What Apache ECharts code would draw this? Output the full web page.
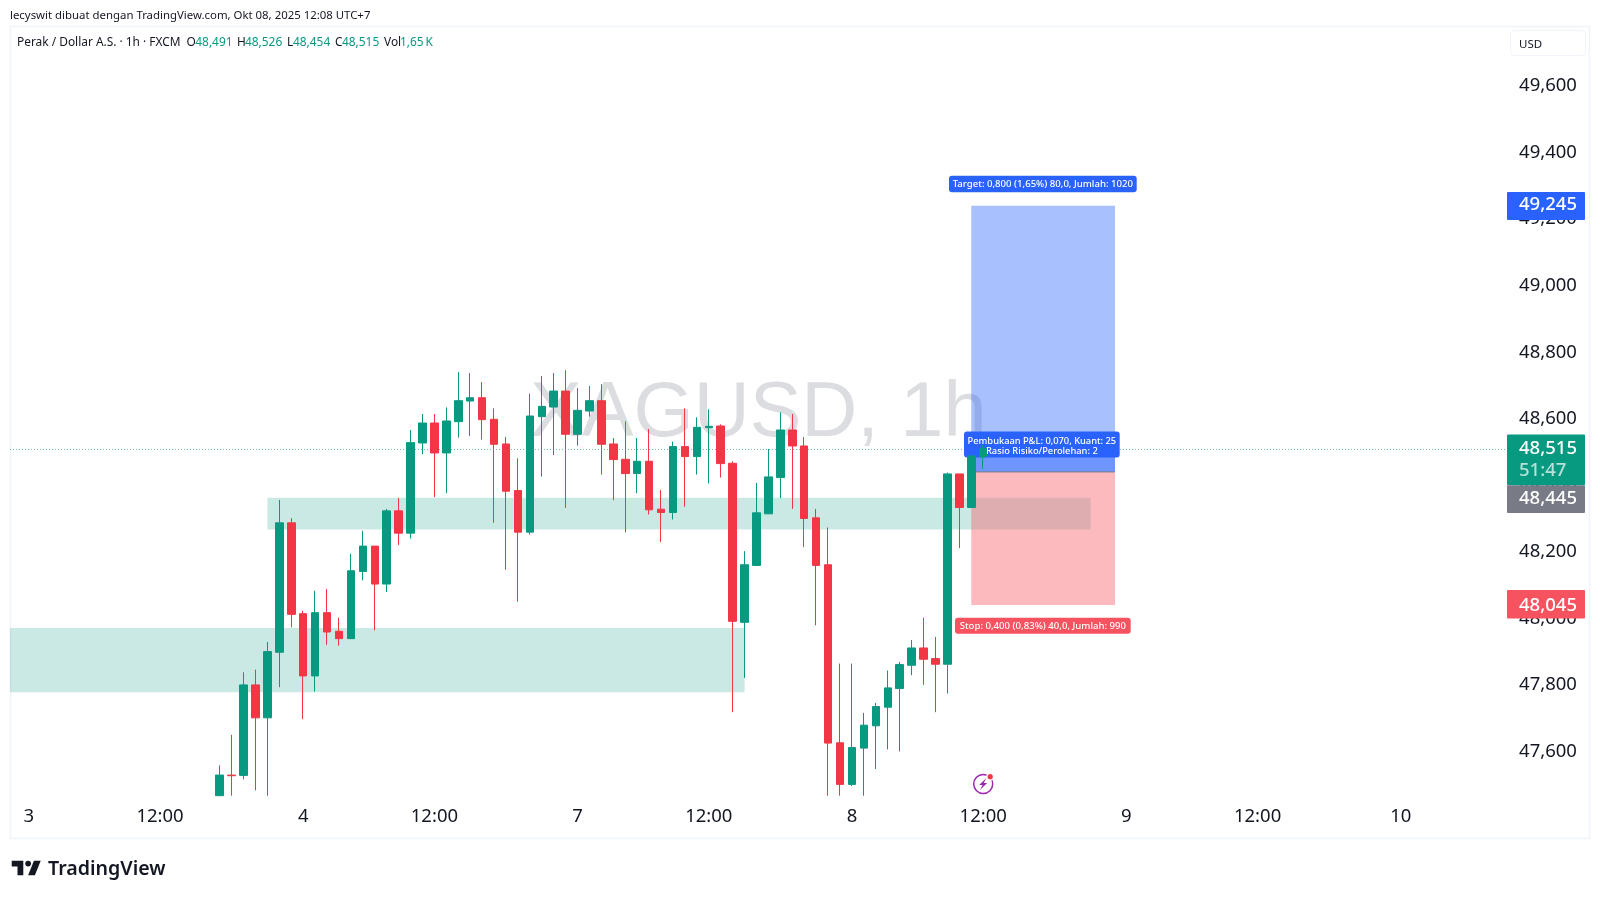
<!DOCTYPE html>
<html><head><meta charset="utf-8">
<style>html,body{margin:0;padding:0;background:#fff}#c{width:1600px;height:898px}</style>
<script src="https://cdn.jsdelivr.net/npm/echarts@6/dist/echarts.min.js"></script>
</head><body><div id="c"></div>
<script>
// --- data (prices in the chart's own units, "48,515" = 48515) ---
const opens =[47472,47534,47533,47805,47706,47903,48292,48019,47832,48022,47966,47944,48146,48222,48108,48328,48261,48532,48592,48502,48596,48658,48668,48603,48529,48389,48264,48611,48640,48688,48558,48628,48659,48529,48483,48440,48477,48333,48323,48521,48491,48578,48583,48471,47993,48164,48319,48428,48571,48523,48307,48166,47631,47506,47615,47682,47738,47794,47864,47916,47884,47867,48439,48338,48491];
const closes=[47534,47532,47805,47706,47905,48292,48017,47832,48022,47964,47944,48148,48222,48108,48328,48261,48533,48592,48502,48598,48659,48668,48602,48528,48387,48264,48613,48642,48688,48558,48630,48659,48528,48482,48440,48477,48331,48323,48521,48491,48579,48582,48470,47996,48166,48322,48430,48571,48523,48305,48164,47630,47506,47617,47684,47740,47796,47866,47916,47882,47867,48439,48338,48493,48515];
const lows  =[47472,47472,47521,47488,47472,47798,47978,47702,47785,47925,47923,47944,48119,47969,48084,48225,48245,48498,48369,48381,48548,48553,48542,48292,48151,48055,48257,48431,48496,48337,48524,48611,48437,48360,48263,48381,48317,48234,48302,48340,48437,48410,48428,47723,47826,48164,48319,48366,48334,48219,47984,47472,47472,47501,47472,47552,47611,47605,47834,47805,47723,47779,48216,48338,48454];
const highs =[47563,47655,47843,47851,47934,48361,48306,48028,48088,48093,48007,48199,48268,48222,48334,48367,48571,48619,48619,48639,48745,48742,48715,48636,48550,48486,48680,48733,48742,48751,48697,48703,48709,48547,48597,48547,48574,48391,48536,48636,48609,48633,48588,48477,48207,48412,48514,48624,48619,48550,48334,48278,47869,47869,47721,47751,47848,47874,47940,48007,47949,48443,48439,48496,48526];
const priceTicks=[47600,47800,48000,48200,48400,48600,48800,49000,49200,49400,49600];
const timeTickBars=[-16,-5,7,18,30,41,53,64,76,87,99];
const timeTickLabels=['3','12:00','4','12:00','7','12:00','8','12:00','9','12:00','10'];
// supply / demand zones: first bar, last bar, upper price, lower price
const zoneStart=[4,-17]; const zoneEnd=[73,44]; const zoneHigh=[48367,47976]; const zoneLow=[48272,47783];
// long position tool
const posStartBar=63, posEndBar=75, posLabelBar=69;
const targetPrice=49245, entryPrice=48445, stopPrice=48045, lastPrice=48515;
const targetText='Target: 0,800 (1,65%) 80,0, Jumlah: 1020';
const stopText='Stop: 0,400 (0,83%) 40,0, Jumlah: 990';
const midText=['Pembukaan P&L: 0,070, Kuant: 25','Rasio Risiko/Perolehan: 2'];
const timerText='51:47';
const eventBar=64, eventPrice=47500;
const watermark='XAGUSD, 1h';
const credit='lecyswit dibuat dengan TradingView.com, Okt 08, 2025 12:08 UTC+7';
const symbolTitle='Perak / Dollar A.S. · 1h · FXCM';
const ohlcNames=['O','H','L','C','Vol'];
const ohlcValues=['48,491','48,526','48,454','48,515','1,65\u2009K'];

// --- layout ---
const BAR=11.93, PAD=17, NCAT=126, LEFT=10.9, TOP=26, HEIGHT=769.7;
const FONT='"Noto Sans", sans-serif';
const GREEN='#089981', RED='#F23645', BLUE='#2962FF', TAGRED='#F7525F', GREY='#787B86';
const fmt=v=>{const s=String(Math.round(v));return s.slice(0,-3)+','+s.slice(-3);};
const cats=new Array(NCAT).fill('');
timeTickBars.forEach((b,i)=>{cats[b+PAD]=timeTickLabels[i];});
const candles=opens.map((o,i)=>[i+PAD,o,closes[i],lows[i],highs[i]]);

const chart=echarts.init(document.getElementById('c'),null,{renderer:'canvas'});

function roundedLabel(cx,cy,w,h,fill,lines,fs,lh,dy){
  const kids=[{type:'rect',shape:{x:cx-w/2,y:cy-h/2,width:w,height:h,r:3},style:{fill}}];
  lines.forEach((t,i)=>kids.push({type:'text',style:{text:t,x:cx,y:cy+dy+(i-(lines.length-1)/2)*lh,align:'center',verticalAlign:'middle',fill:'#fff',font:'500 '+fs+'px '+FONT}}));
  return kids;
}
function axisTag(y0,y1,fill,txt,ty){
  return [{type:'rect',shape:{x:1507,y:y0,width:78,height:y1-y0,r:1},style:{fill}},
    {type:'text',style:{text:txt,x:1519,y:ty,verticalAlign:'middle',fill:'#fff',font:'500 18.5px '+FONT}}];
}
const LS=29/30, LX=11.7-2*LS, LY=860.7-6*LS;
const logoPt=q=>[LX+q[0]*LS,LY+q[1]*LS];

chart.setOption({
  animation:false,backgroundColor:'#fff',
  grid:{left:LEFT,top:TOP,width:BAR*NCAT,height:HEIGHT,containLabel:false},
  xAxis:{type:'category',data:cats,boundaryGap:true,
    axisLine:{show:false},axisTick:{show:false},splitLine:{show:false},
    axisLabel:{interval:(i,v)=>v!=='',hideOverlap:false,color:'#131722',fontFamily:FONT,fontSize:18.5,margin:12}},
  yAxis:{type:'value',position:'right',min:47472,max:49785,scale:true,
    axisLine:{show:false},axisTick:{show:false},splitLine:{show:false},
    axisLabel:{customValues:priceTicks,formatter:fmt,color:'#131722',fontFamily:FONT,fontSize:18.5,margin:5,verticalAlign:'bottom',lineHeight:3,showMinLabel:true,showMaxLabel:true}},
  graphic:{elements:[
    {type:'rect',z:-2,shape:{x:10.5,y:26.5,width:1579,height:812},style:{fill:'#fff',stroke:'#F0F3FA',lineWidth:1.5}},
    {type:'text',z:-1,style:{text:watermark,x:530,y:415,verticalAlign:'middle',fill:'#DCDDE0',font:'77.5px "Liberation Sans", sans-serif'}},
    {type:'text',z:10,style:{text:credit,x:10,y:16,verticalAlign:'middle',fill:'#131722',font:'11.4px '+FONT}},
    {type:'text',z:10,style:{text:symbolTitle,x:17,y:43,verticalAlign:'middle',fill:'#131722',font:'11.9px '+FONT}},
    ...ohlcNames.flatMap((n,i)=>{
      const lx=[186.5,237,287,335,384][i], vx=[195.3,245,293,342,400][i];
      return [{type:'text',z:10,style:{text:n,x:lx,y:43,verticalAlign:'middle',fill:'#131722',font:'11.9px '+FONT}},
              {type:'text',z:10,style:{text:ohlcValues[i],x:vx,y:43,verticalAlign:'middle',fill:GREEN,font:'11.9px '+FONT}}];
    }),
    {type:'rect',z:10,shape:{x:1510.5,y:30.5,width:75,height:25,r:4},style:{fill:'#fff',stroke:'#F0F3FA',lineWidth:1}},
    {type:'text',z:11,style:{text:'USD',x:1519,y:45,verticalAlign:'middle',fill:'#131722',font:'11.5px '+FONT}},
    {type:'polygon',z:10,shape:{points:[[14,6],[2,6],[2,12],[8,12],[8,21],[14,21]].map(logoPt)},style:{fill:'#131722'}},
    {type:'polygon',z:10,shape:{points:[[26,21],[19,21],[25,6],[32,6]].map(logoPt)},style:{fill:'#131722'}},
    {type:'circle',z:10,shape:{cx:logoPt([19,9])[0],cy:logoPt([19,9])[1],r:3*LS},style:{fill:'#131722'}},
    {type:'text',z:10,style:{text:'TradingView',x:48,y:869,verticalAlign:'middle',fill:'#131722',font:'600 19.6px '+FONT}}
  ]},
  series:[
    {name:'zones',type:'custom',z:1,coordinateSystem:'cartesian2d',
      data:zoneStart.map((s,i)=>[s+PAD,zoneEnd[i]+PAD,zoneHigh[i],zoneLow[i]]),
      encode:{x:[0,1],y:[2,3]},silent:true,
      renderItem:(p,api)=>{
        const a=api.coord([api.value(0),api.value(2)]), b=api.coord([api.value(1),api.value(3)]);
        let x0=a[0]; if(api.value(0)===0) x0=p.coordSys.x-1;
        return {type:'rect',shape:{x:x0,y:a[1],width:b[0]-x0,height:b[1]-a[1]},style:{fill:'rgba(8,153,129,0.21)'}};
      }},
    {name:'position',type:'custom',z:2,coordinateSystem:'cartesian2d',
      data:[[posStartBar+PAD,posEndBar+PAD,targetPrice,entryPrice,stopPrice,lastPrice]],
      encode:{x:[0,1],y:[2,3]},silent:true,
      renderItem:(p,api)=>{
        const x0=api.coord([api.value(0),targetPrice])[0], x1=api.coord([api.value(1),targetPrice])[0]+0.6;
        const yT=api.coord([api.value(0),api.value(2)])[1], yE=api.coord([api.value(0),api.value(3)])[1];
        const yS=api.coord([api.value(0),api.value(4)])[1], yL=api.coord([api.value(0),api.value(5)])[1];
        return {type:'group',children:[
          {type:'rect',shape:{x:x0,y:yT,width:x1-x0,height:yE-yT},style:{fill:'rgba(41,98,255,0.4)'}},
          {type:'rect',shape:{x:x0,y:yE,width:x1-x0,height:yS-yE},style:{fill:'rgba(247,82,95,0.4)'}},
          {type:'rect',shape:{x:x0,y:yL,width:x1-x0,height:yE-yL},style:{fill:'rgba(41,98,255,0.45)'}},
          {type:'line',shape:{x1:x0,y1:yE,x2:x1,y2:yE},style:{stroke:GREY,lineWidth:1}}
        ]};
      }},
    {name:'lastPriceLine',type:'custom',z:3,coordinateSystem:'cartesian2d',
      data:[[PAD,lastPrice]],encode:{x:0,y:1},silent:true,
      renderItem:(p,api)=>{
        const y=Math.round(api.coord([api.value(0),api.value(1)])[1])+0.5;
        return {type:'line',shape:{x1:10,y1:y,x2:1507,y2:y},style:{stroke:GREEN,opacity:0.6,lineWidth:1,lineDash:[1,2]}};
      }},
    {name:'positionLabels',type:'custom',z:4,coordinateSystem:'cartesian2d',
      data:[[posLabelBar+PAD,targetPrice],[posLabelBar+PAD,lastPrice],[posLabelBar+PAD,stopPrice]],
      encode:{x:0,y:1},silent:true,
      renderItem:(p,api)=>{
        const c=api.coord([api.value(0),api.value(1)]);
        const k=[roundedLabel(c[0],c[1]-21.7,187.7,16.7,BLUE,[targetText],9.6,0,0),
                 roundedLabel(c[0]-1,c[1]-4,155.7,26,BLUE,midText,9.3,9.8,1.6),
                 roundedLabel(c[0],c[1]+20.7,175.7,16,TAGRED,[stopText],9.6,0,0.5)][p.dataIndex];
        return {type:'group',children:k};
      }},
    {name:'XAGUSD',type:'candlestick',z:5,data:candles,encode:{x:0,y:[1,2,3,4]},barWidth:8,silent:true,
      clip:true,
      itemStyle:{color:GREEN,color0:RED,borderColor:GREEN,borderColor0:RED,borderWidth:1}},
    {name:'axisTags',type:'custom',z:8,coordinateSystem:'cartesian2d',
      data:[[NCAT-1,targetPrice],[NCAT-1,lastPrice],[NCAT-1,entryPrice],[NCAT-1,stopPrice]],
      encode:{x:0,y:1},silent:true,
      renderItem:(p,api)=>{
        const y=api.coord([api.value(0),api.value(1)])[1], v=fmt(api.value(1));
        const kids=[
          axisTag(y-13.7,y+14.3,BLUE,v,y-0.8),
          [...axisTag(y-14,y+36.6,GREEN,v,y+0.6),
           {type:'text',style:{text:timerText,x:1519,y:y+22.3,verticalAlign:'middle',fill:'rgba(255,255,255,0.7)',font:'500 18.5px '+FONT}}],
          axisTag(y+13.3,y+41.2,GREY,v,y+27.3),
          axisTag(y-15,y+13.4,TAGRED,v,y+1)
        ][p.dataIndex];
        return {type:'group',children:kids};
      }},
    {name:'event',type:'custom',z:8,coordinateSystem:'cartesian2d',
      data:[[eventBar+PAD,eventPrice]],encode:{x:0,y:1},silent:true,
      renderItem:(p,api)=>{
        const c=api.coord([api.value(0),api.value(1)]), cx=c[0], cy=784;
        const pts=[[3.2,-6],[-4,1],[-0.5,1],[-3.2,6],[4,-1],[0.5,-1]].map(q=>[cx+q[0],cy+q[1]]);
        return {type:'group',children:[
          {type:'circle',shape:{cx,cy,r:9.5},style:{fill:'none',stroke:'#9C27B0',lineWidth:1.5}},
          {type:'polygon',shape:{points:pts},style:{fill:'#9C27B0'}},
          {type:'circle',shape:{cx:cx+7,cy:cy-7.3,r:4},style:{fill:'#fff'}},
          {type:'circle',shape:{cx:cx+7,cy:cy-7.3,r:2.6},style:{fill:RED}}
        ]};
      }}
  ]
});
</script></body></html>
